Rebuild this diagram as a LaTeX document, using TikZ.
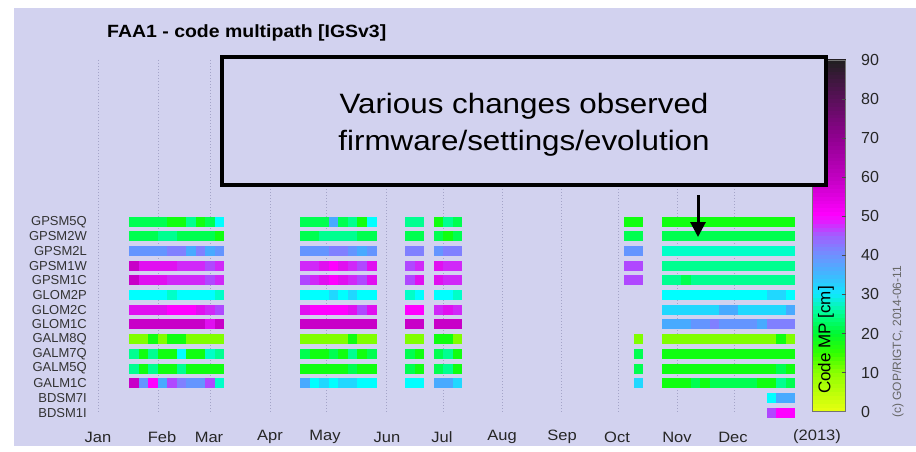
\documentclass[tikz,border=0pt]{standalone}
\usepackage{fontspec}
\setmainfont{Liberation Sans}
\newfontfamily\widesans[FakeStretch=1.1]{Liberation Sans}
\newfontfamily\widercall[FakeStretch=1.12]{Liberation Sans}
\usetikzlibrary{arrows.meta}
\definecolor{bg}{HTML}{D2D2EF}
\definecolor{gridc}{HTML}{A4A4C8}
\definecolor{lim}{HTML}{80FF00}
\definecolor{grn}{HTML}{10FF10}
\definecolor{gr2}{HTML}{00FF50}
\definecolor{spr}{HTML}{00FF90}
\definecolor{aqu}{HTML}{00FFC8}
\definecolor{cya}{HTML}{00FFFF}
\definecolor{cyb}{HTML}{20D8FF}
\definecolor{sky}{HTML}{48AAFF}
\definecolor{blu}{HTML}{6495FF}
\definecolor{per}{HTML}{8080FF}
\definecolor{pur}{HTML}{B048FF}
\definecolor{vio}{HTML}{D028F8}
\definecolor{mag}{HTML}{FF00FF}
\definecolor{mg2}{HTML}{E010F0}
\definecolor{dmg}{HTML}{C800C8}
\definecolor{ca}{HTML}{E8FF10}
\definecolor{cb}{HTML}{8CFF00}
\definecolor{cc}{HTML}{30FF00}
\definecolor{cd}{HTML}{00F830}
\definecolor{ce}{HTML}{00FF90}
\definecolor{cf}{HTML}{10E8FF}
\definecolor{cg}{HTML}{40B8FF}
\definecolor{ch}{HTML}{7090FF}
\definecolor{ci}{HTML}{A060FF}
\definecolor{cj}{HTML}{FF00FF}
\definecolor{ck}{HTML}{C000C0}
\definecolor{cl}{HTML}{900090}
\definecolor{cm}{HTML}{581058}
\definecolor{cn}{HTML}{202020}
\newcommand\mpcells[3]{\foreach \cc [count=\kk from 0] in {#3} {\fill[fill=\cc] ({129+9.52*(#2+\kk)},{216.7+14.68*#1}) rectangle ++(9.52,10);}}
\newcommand\cbseg[4]{\pgfmathtruncatemacro\endv{#2-1}\foreach \v in {#1,...,\endv} {\pgfmathtruncatemacro\pp{100*(\v+0.5-#1)/(#2-#1)}\fill[fill=#4!\pp!#3] (812,{411.7-3.91*(\v+1)-0.3}) rectangle (845.5,{411.7-3.91*\v});}}
\tikzset{
  gridline/.style={gridc, line width=0.7pt, dash pattern=on 1pt off 2pt},
  rowlab/.style={anchor=east, text=black!80, font=\fontsize{13}{15}\selectfont, inner sep=0pt},
  monlab/.style={text=black!85, font=\widesans\fontsize{15}{18}\selectfont, inner sep=0pt},
  cblab/.style={anchor=west, text=black!85, font=\fontsize{16}{18}\selectfont, inner sep=0pt},
  titlest/.style={anchor=west, font=\widesans\fontsize{17.7}{21}\selectfont\bfseries, inner sep=0pt},
  callout/.style={draw=black, line width=4pt, fill=bg, minimum width=604pt, minimum height=128pt, inner sep=0pt, outer sep=0pt, align=center, font=\widercall\fontsize{28}{37}\selectfont},
  arrowst/.style={line width=3pt, -{Triangle[length=15pt,width=15pt]}}
}
\begin{document}
\begin{tikzpicture}[x=1pt,y=-1pt]
\useasboundingbox (0,0) rectangle (916,452);
\fill[bg] (14,8) rectangle (916,446);
% grid
\foreach \gx in {98,158,210,270,326,386,443,502,561,618,677,734}
  \draw[gridline] (\gx,60) -- (\gx,412);
% title
\node[titlest] (title) at (107,33) {FAA1 - code multipath [IGSv3]};
% row labels
\foreach \nm [count=\i from 0] in {GPSM5Q,GPSM2W,GPSM2L,GPSM1W,GPSM1C,GLOM2P,GLOM2C,GLOM1C,GALM8Q,GALM7Q,GALM5Q,GALM1C,BDSM7I,BDSM1I}
  \node[rowlab] (r\i) at (87,{221.7+14.68*\i}) {\nm};
% month labels
\foreach \m/\x [count=\i] in {Jan/98,Feb/162,Mar/209,Apr/270,May/325,Jun/387,Jul/442,Aug/502,Sep/562,Oct/617,Nov/677,Dec/733,(2013)/817}
  \node[monlab] (m\i) at (\x,437) {\m};
% group 1
\mpcells{0}{0}{gr2,gr2,gr2,gr2,grn,grn,spr,grn,gr2,cya}
\mpcells{1}{0}{gr2,gr2,gr2,spr,spr,gr2,gr2,gr2,gr2,grn}
\mpcells{2}{0}{blu,blu,blu,blu,per,per,sky,per,sky,blu}
\mpcells{3}{0}{dmg,mg2,mg2,mg2,mg2,vio,vio,vio,pur,vio}
\mpcells{4}{0}{dmg,mg2,mg2,mg2,vio,vio,vio,vio,pur,vio}
\mpcells{5}{0}{cya,cya,cya,cya,aqu,cya,cya,cya,cya,aqu}
\mpcells{6}{0}{mg2,mg2,mg2,mg2,mag,mag,mag,mg2,vio,pur}
\mpcells{7}{0}{dmg,dmg,dmg,dmg,dmg,dmg,dmg,dmg,mg2,dmg}
\mpcells{8}{0}{lim,lim,grn,lim,grn,grn,lim,lim,lim,lim}
\mpcells{9}{0}{spr,grn,spr,grn,grn,cya,grn,grn,aqu,spr}
\mpcells{10}{0}{spr,grn,spr,grn,grn,spr,grn,grn,grn,grn}
\mpcells{11}{0}{dmg,blu,mag,sky,pur,per,blu,blu,pur,aqu}
% group 2
\mpcells{0}{18}{gr2,gr2,gr2,sky,gr2,spr,grn,cya}
\mpcells{1}{18}{gr2,gr2,spr,spr,spr,spr,gr2,gr2}
\mpcells{2}{18}{blu,blu,blu,per,per,blu,sky,blu}
\mpcells{3}{18}{vio,vio,mg2,mag,mg2,vio,pur,mg2}
\mpcells{4}{18}{pur,vio,mg2,mag,mg2,vio,pur,mg2}
\mpcells{5}{18}{cya,cya,cya,cyb,cya,cyb,cya,cya}
\mpcells{6}{18}{mg2,mag,mag,mag,mag,mg2,pur,mg2}
\mpcells{7}{18}{dmg,dmg,dmg,dmg,dmg,dmg,dmg,dmg}
\mpcells{8}{18}{lim,lim,lim,lim,lim,grn,lim,lim}
\mpcells{9}{18}{gr2,grn,grn,gr2,grn,spr,grn,gr2}
\mpcells{10}{18}{grn,grn,grn,grn,grn,gr2,grn,grn}
\mpcells{11}{18}{sky,cya,cyb,cya,cyb,cyb,cya,cya}
% group 3
\mpcells{0}{29}{spr,spr}
\mpcells{1}{29}{gr2,gr2}
\mpcells{2}{29}{per,per}
\mpcells{3}{29}{pur,vio}
\mpcells{4}{29}{pur,mg2}
\mpcells{5}{29}{aqu,cya}
\mpcells{6}{29}{mag,mag}
\mpcells{7}{29}{dmg,dmg}
\mpcells{8}{29}{lim,lim}
\mpcells{9}{29}{gr2,grn}
\mpcells{10}{29}{gr2,grn}
\mpcells{11}{29}{cya,cya}
% group 4
\mpcells{0}{32}{grn,spr,gr2}
\mpcells{1}{32}{gr2,grn,gr2}
\mpcells{2}{32}{blu,per,per}
\mpcells{3}{32}{mg2,vio,vio}
\mpcells{4}{32}{mg2,vio,vio}
\mpcells{5}{32}{cya,cya,aqu}
\mpcells{6}{32}{vio,mg2,vio}
\mpcells{7}{32}{dmg,dmg,dmg}
\mpcells{8}{32}{grn,grn,lim}
\mpcells{9}{32}{gr2,spr,grn}
\mpcells{10}{32}{gr2,spr,grn}
\mpcells{11}{32}{sky,sky,cyb}
% group 5
\mpcells{0}{52}{grn,grn}
\mpcells{1}{52}{gr2,gr2}
\mpcells{2}{52}{blu,blu}
\mpcells{3}{52}{pur,pur}
\mpcells{4}{52}{pur,pur}
\mpcells{8}{53}{lim}
\mpcells{9}{53}{gr2}
\mpcells{10}{53}{gr2}
\mpcells{11}{53}{cyb}
% group 6
\mpcells{0}{56}{grn,grn,grn,grn,grn,grn,grn,grn,grn,grn,grn,grn,grn,grn}
\mpcells{1}{56}{gr2,gr2,gr2,gr2,gr2,gr2,gr2,gr2,gr2,gr2,gr2,gr2,gr2,gr2}
\mpcells{2}{56}{aqu,aqu,aqu,aqu,aqu,aqu,aqu,aqu,aqu,aqu,aqu,aqu,aqu,aqu}
\mpcells{3}{56}{spr,spr,spr,spr,spr,spr,spr,spr,spr,spr,spr,spr,spr,spr}
\mpcells{4}{56}{spr,spr,gr2,spr,spr,spr,spr,spr,spr,spr,spr,spr,spr,spr}
\mpcells{5}{56}{cya,cya,cya,cya,cya,cya,cya,cya,cya,cya,cya,cyb,cyb,cya}
\mpcells{6}{56}{cyb,cyb,cyb,cyb,cyb,cyb,sky,sky,cyb,cyb,cyb,cyb,cyb,sky}
\mpcells{7}{56}{sky,sky,sky,blu,blu,per,blu,blu,blu,blu,sky,per,per,per}
\mpcells{8}{56}{lim,lim,lim,lim,lim,lim,lim,lim,lim,lim,lim,lim,grn,lim}
\mpcells{9}{56}{grn,grn,grn,grn,grn,grn,grn,grn,grn,grn,grn,grn,grn,grn}
\mpcells{10}{56}{grn,grn,grn,grn,grn,grn,grn,grn,grn,grn,grn,grn,gr2,grn}
\mpcells{11}{56}{grn,grn,grn,gr2,grn,gr2,gr2,gr2,gr2,gr2,grn,grn,spr,gr2}
\mpcells{12}{67}{cya,sky,sky}
\mpcells{13}{67}{pur,mag,mag}
% colour bar
\cbseg{0}{10}{ca}{cb}
\cbseg{10}{15}{cb}{cc}
\cbseg{15}{20}{cc}{cd}
\cbseg{20}{25}{cd}{ce}
\cbseg{25}{30}{ce}{cf}
\cbseg{30}{35}{cf}{cg}
\cbseg{35}{40}{cg}{ch}
\cbseg{40}{45}{ch}{ci}
\cbseg{45}{50}{ci}{cj}
\cbseg{50}{60}{cj}{ck}
\cbseg{60}{70}{ck}{cl}
\cbseg{70}{80}{cl}{cm}
\cbseg{80}{90}{cm}{cn}
\draw[black!55, line width=0.6pt] (812,60) rectangle (845.5,411.7);
\foreach \t in {10,20,...,80}
  \draw[black!70, line width=0.6pt] (841.5,{411.7-3.91*\t}) -- (845.5,{411.7-3.91*\t});
\foreach \t in {0,10,...,90}
  \node[cblab] (cbl\t) at (861,{411.7-3.91*\t}) {\t};
\node[rotate=90, font=\fontsize{17}{20}\selectfont, inner sep=0pt] (cbtitle) at (826,340) {Code MP [cm]};
\node[rotate=90, text=black!60, font=\fontsize{12}{14}\selectfont, inner sep=0pt] (copy) at (898,342) {(c) GOP/RIGTC, 2014-06-11};
% callout
\node[callout] (note) at (524,121) {\rule{0pt}{27pt}Various changes observed\\firmware/settings/evolution};
\coordinate (atail) at (698,195);
\coordinate (ahead) at (698,237);
\draw[arrowst] (atail) -- (ahead);
\end{tikzpicture}
\end{document}
